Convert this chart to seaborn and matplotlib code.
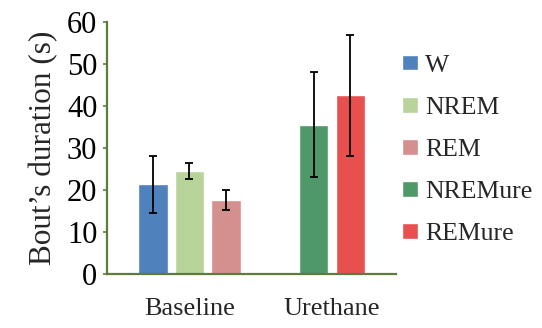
import numpy as np, pandas as pd
import seaborn as sns
import matplotlib
matplotlib.use("Agg")
import matplotlib.pyplot as plt
from matplotlib.patches import Patch

sns.set_style("ticks")
plt.rcParams['font.family'] = ['Liberation Serif', 'DejaVu Serif']

# data
conditions = ["Baseline", "Urethane"]
base_states = ["W", "NREM", "REM"]
base_means = [21.4, 24.5, 17.6]
base_err = [6.8, 1.9, 2.3]
ure_states = ["NREMure", "REMure"]
ure_means = [35.5, 42.6]
ure_err = [12.5, 14.4]

colors = {"W": "#4F81BD", "NREM": "#B9D49A", "REM": "#D4908F",
          "NREMure": "#4E986A", "REMure": "#E85050"}
axis_col = "#5E7B3F"

base_df = pd.DataFrame({"cond": "Baseline", "state": base_states, "dur": base_means})
ure_df = pd.DataFrame({"cond": "Urethane", "state": ure_states, "dur": ure_means})

fig = plt.figure(figsize=(5.42, 3.28), dpi=100)
ax = fig.add_axes([0.1974, 0.1646, 0.5332, 0.7683])

slot = 0.256
for df, states, w in [(base_df, base_states, 3 * slot), (ure_df, ure_states, 2 * slot)]:
    sns.barplot(data=df, x="cond", y="dur", hue="state", order=conditions,
                hue_order=states, palette=colors, width=w, gap=0.2,
                errorbar=None, legend=False, ax=ax, saturation=1)

# error bars at the bar centres (one container per state, in drawing order)
all_means = base_means + ure_means
all_err = base_err + ure_err
for cont, m, e in zip(ax.containers, all_means, all_err):
    for bar in cont:
        if bar.get_height() > 0:
            xc = bar.get_x() + bar.get_width() / 2
            ax.errorbar(xc, m, yerr=e, color="black", lw=1.3,
                        capsize=3, capthick=1.3, fmt="none", zorder=5)

ax.set_xlim(-0.579, 1.449)
ax.set_ylim(0, 60)
ax.set_yticks(range(0, 61, 10))
ax.set_xlabel("")
ax.set_ylabel("Bout’s duration (s)", fontsize=22.5, labelpad=6)
ax.tick_params(axis="y", labelsize=22, length=3, width=1.2, color=axis_col, pad=4, labelcolor="black")
ax.tick_params(axis="x", labelsize=19, length=0, pad=17)
for s in ["top", "right"]:
    ax.spines[s].set_visible(False)
for s in ["left", "bottom"]:
    ax.spines[s].set_color(axis_col)
    ax.spines[s].set_linewidth(1.6)

handles = [Patch(facecolor=colors[s], label=s) for s in base_states + ure_states]
fig.legend(handles=handles, loc="center left", bbox_to_anchor=(0.741, 0.543),
           frameon=False, fontsize=18.5, borderpad=0, borderaxespad=0,
           handlelength=0.62, handleheight=0.55, handletextpad=0.3,
           labelspacing=0.78)

fig.savefig("out.png", dpi=100)
